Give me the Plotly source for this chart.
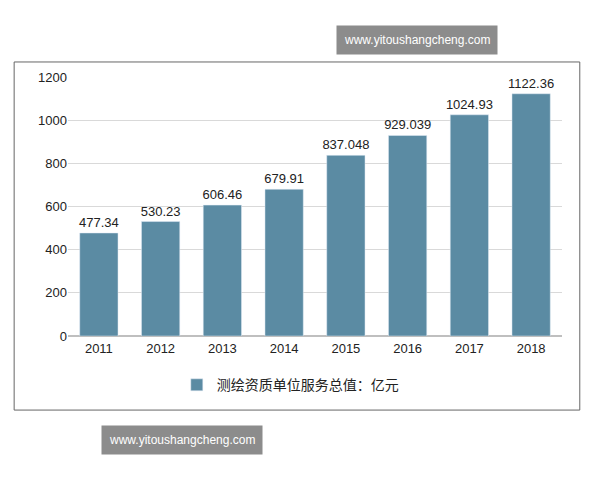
import plotly.graph_objects as go

years = ["2011", "2012", "2013", "2014", "2015", "2016", "2017", "2018"]
values = [477.34, 530.23, 606.46, 679.91, 837.048, 929.039, 1024.93, 1122.36]
labels = ["477.34", "530.23", "606.46", "679.91", "837.048", "929.039", "1024.93", "1122.36"]
series_name = "测绘资质单位服务总值：亿元"
site = "www.yitoushangcheng.com"

font = "Liberation Sans, Noto Sans CJK SC, sans-serif"

fig = go.Figure(go.Bar(
    x=years, y=values, text=labels, textposition="outside",
    textfont=dict(size=13, color="#222"), cliponaxis=False, constraintext="none",
    marker_color="#5b8ba3", width=0.62, name=series_name, showlegend=True,
))

# page body has an 8px margin, so sizes are reduced accordingly
fig.update_layout(
    width=584, height=464, paper_bgcolor="white", plot_bgcolor="white",
    margin=dict(l=60, r=30, t=69, b=136),
    font=dict(family=font, size=13, color="#222"),
    yaxis=dict(range=[0, 1200], dtick=200, gridcolor="#d9d9d9", zeroline=True,
               zerolinecolor="#bfbfbf", ticks="", tickfont=dict(size=13), automargin=False),
    xaxis=dict(showline=True, linecolor="#bfbfbf", tickfont=dict(size=13), automargin=False),
    legend=dict(orientation="h", x=0.45, xanchor="center", y=-0.19, yanchor="middle",
                font=dict(size=14)),
    bargap=0.38,
)

fig.add_shape(type="rect", xref="paper", yref="paper",
              x0=-0.109, x1=1.036, y0=-0.286, y1=1.058,
              line=dict(color="#666", width=1))

fig.add_annotation(text=site, xref="paper", yref="paper", x=(498 - 68) / 494, y=(336 - 25) / 259,
                   showarrow=False, bgcolor="#8c8c8c", font=dict(color="white", size=12),
                   borderpad=7)
fig.add_annotation(text=site, xref="paper", yref="paper", x=(101 - 68) / 494, y=(336 - 455) / 259,
                   showarrow=False, bgcolor="#8c8c8c", font=dict(color="white", size=12),
                   borderpad=7)

fig.write_html("out.html")
